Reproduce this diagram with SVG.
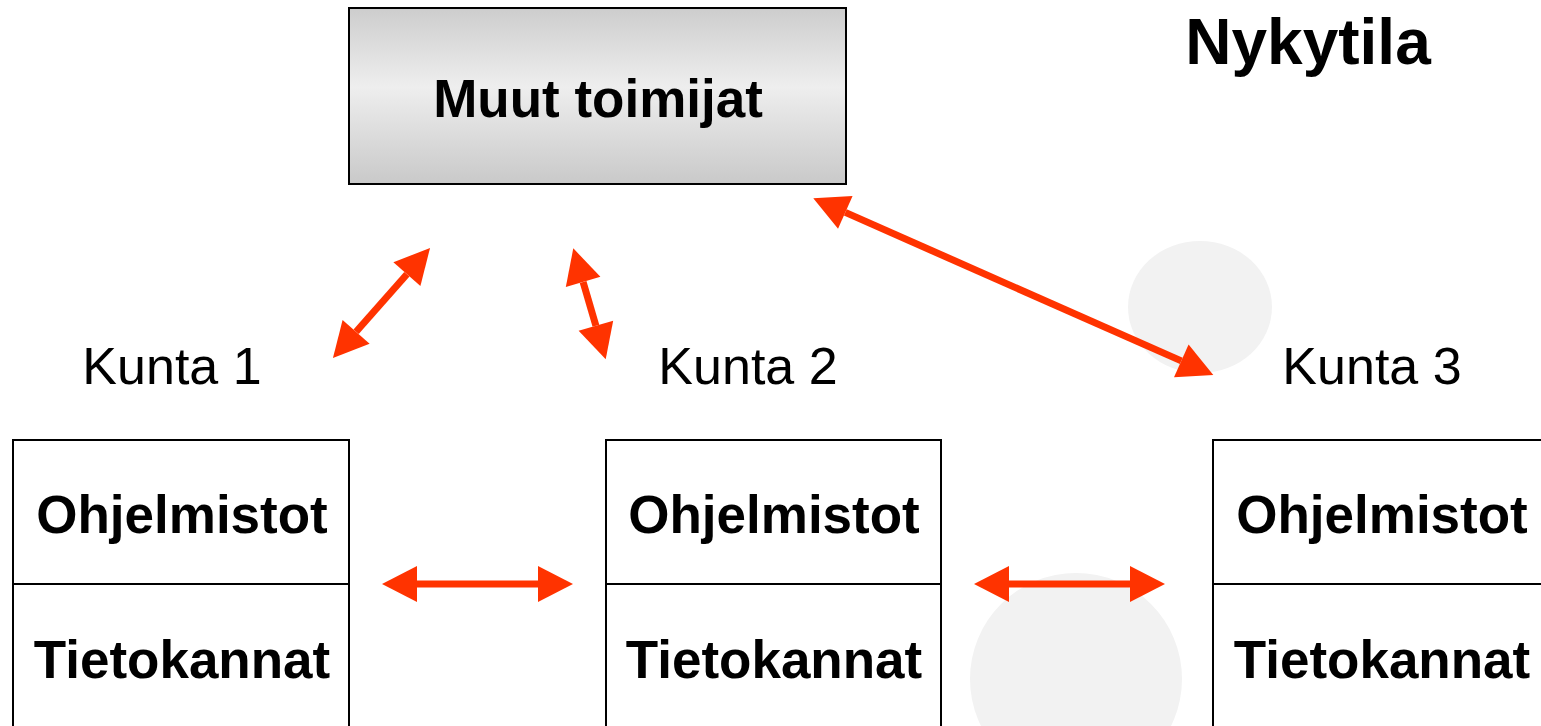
<svg xmlns="http://www.w3.org/2000/svg" width="1541" height="726" viewBox="0 0 1541 726">
  <style>
    .box { fill: #ffffff; stroke: #000000; stroke-width: 2; }
    .div { stroke: #000000; stroke-width: 2; }
    .lbl { font-family: "Liberation Sans", Arial, sans-serif; font-size: 53px; font-weight: bold; fill: #000000; text-anchor: middle; }
    .kunta { font-family: "Liberation Sans", Arial, sans-serif; font-size: 52px; fill: #000000; text-anchor: middle; }
    .arr { stroke: #ff3300; stroke-width: 7; fill: none; marker-start: url(#ah); marker-end: url(#ah); }
    .bg { fill: #f2f2f2; }
  </style>
  <defs>
    <linearGradient id="grey" x1="0" y1="0" x2="0" y2="1">
      <stop offset="0" stop-color="#cdcdcd"/>
      <stop offset="0.45" stop-color="#eeeeee"/>
      <stop offset="1" stop-color="#c9c9c9"/>
    </linearGradient>
    <marker id="ah" markerUnits="userSpaceOnUse" markerWidth="35" markerHeight="36" viewBox="0 -18 35 36" refX="0" refY="0" orient="auto-start-reverse" overflow="visible">
      <path d="M0,-18 L35,0 L0,18 z" fill="#ff3300"/>
    </marker>
  </defs>
  <rect width="1541" height="726" fill="#ffffff"/>
  <ellipse class="bg" cx="1200" cy="307" rx="72" ry="66"/>
  <circle class="bg" cx="1076" cy="679" r="106"/>

  <g id="muut">
    <rect x="349" y="8" width="497" height="176" fill="url(#grey)" stroke="#000000" stroke-width="2"/>
    <text class="lbl" x="598" y="117" font-size="54">Muut toimijat</text>
  </g>

  <g id="title">
    <text x="1308" y="64" font-family="Liberation Sans, Arial, sans-serif" font-size="64" font-weight="bold" text-anchor="middle">Nykytila</text>
  </g>

  <g id="kunta1">
    <text class="kunta" x="172" y="384">Kunta 1</text>
    <rect class="box" x="13" y="440" width="336" height="300"/>
    <line class="div" x1="13" y1="584" x2="349" y2="584"/>
    <text class="lbl" x="182" y="533">Ohjelmistot</text>
    <text class="lbl" x="182" y="678">Tietokannat</text>
  </g>

  <g id="kunta2">
    <text class="kunta" x="748" y="384">Kunta 2</text>
    <rect class="box" x="606" y="440" width="335" height="300"/>
    <line class="div" x1="606" y1="584" x2="941" y2="584"/>
    <text class="lbl" x="774" y="533">Ohjelmistot</text>
    <text class="lbl" x="774" y="678">Tietokannat</text>
  </g>

  <g id="kunta3">
    <text class="kunta" x="1372" y="384">Kunta 3</text>
    <rect class="box" x="1213" y="440" width="340" height="300"/>
    <line class="div" x1="1213" y1="584" x2="1553" y2="584"/>
    <text class="lbl" x="1382" y="533">Ohjelmistot</text>
    <text class="lbl" x="1382" y="678">Tietokannat</text>
  </g>

  <g id="connectors">
    <line class="arr" x1="356.1" y1="331.8" x2="406.9" y2="274.2"/>
    <line class="arr" x1="583.1" y1="281.9" x2="595.9" y2="325.7"/>
    <line class="arr" x1="845.3" y1="212.4" x2="1181.3" y2="360.9"/>
    <line class="arr" x1="417" y1="584" x2="538" y2="584"/>
    <line class="arr" x1="1009" y1="584" x2="1130" y2="584"/>
  </g>
</svg>
